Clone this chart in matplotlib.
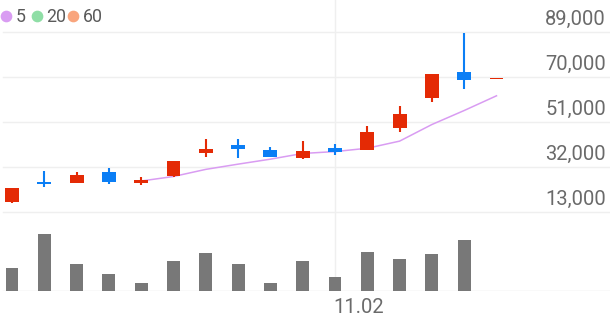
import matplotlib
matplotlib.use("Agg")
import numpy as np
import matplotlib.pyplot as plt
from matplotlib import transforms

plt.rcParams['font.family'] = ['Roboto', 'DejaVu Sans']

# daily candles (price in won), red = up, blue = down
opens  = [17400, 25500, 25400, 29900, 25300, 28200, 37900, 41100, 39200, 35900, 40100, 39000, 48300, 60900, 72000, 69000]
closes = [23300, 24800, 28500, 25600, 26600, 34700, 39600, 39500, 36100, 38900, 38300, 46700, 54500, 71100, 68700, 69000]
highs  = [23300, 30300, 30000, 31600, 27800, 34700, 43800, 43700, 40300, 43100, 41700, 49400, 57800, 71100, 88300, 69000]
lows   = [17000, 23700, 25400, 25000, 24300, 27700, 36300, 35800, 36100, 35200, 37100, 39000, 46700, 59300, 64900, 69000]

# 5-day moving average, starts at the 5th candle
ma5 = [26100, 28000, 31000, 33200, 35300, 37700, 38500, 39900, 42900, 49900, 55800, 62000]

# volume (thousand shares), last day has none yet
volumes = [230, 573, 270, 170, 77, 300, 383, 270, 83, 300, 140, 393, 323, 367, 513]

price_ticks = [89000, 70000, 51000, 32000, 13000]
date_tick_pos = 10
date_tick_label = '11.02'

legend_labels = ['5', '20', '60']
legend_colors = ['#d99cf2', '#8fdea6', '#f9a57d']

RED = '#e42a05'
BLUE = '#0b7ef5'
GRID = '#efefef'
TXT = '#6a6a6a'

W, H = 610, 318
fig = plt.figure(figsize=(W / 100, H / 100), dpi=100)
ax = fig.add_axes([0, 1 - 222 / H, 1, 222 / H])
axv = fig.add_axes([0, 27 / H, 1, 69 / H])

xlim = (-12 / 32.3, (W - 12) / 32.3)
for a in (ax, axv):
    a.set_xlim(*xlim)
    a.axis('off')
ax.set_ylim(8828, 102355)
axv.set_ylim(0, 690)

# grid
for p in price_ticks:
    ax.axhline(p, xmin=3 / W, color=GRID, lw=1.0, zorder=0)
ax.axvline(date_tick_pos, color=GRID, lw=1.0, zorder=0)
axv.axvline(date_tick_pos, color=GRID, lw=1.0, zorder=0)
axv.axhline(0, xmin=3 / W, color='#e4e4e4', lw=1.0, zorder=0)

# candles
x = np.arange(len(opens))
cols = [RED if c >= o else BLUE for o, c in zip(opens, closes)]
ax.vlines(x, lows, highs, colors=cols, lw=1.5, zorder=2)
bottoms = [min(o, c) for o, c in zip(opens, closes)]
heights = [max(abs(c - o), 450) for o, c in zip(opens, closes)]
ax.bar(x, heights, bottom=bottoms, width=0.43, color=cols, lw=0, zorder=3)

# moving average
ax.plot(x[4:], ma5, color=legend_colors[0], lw=1.1, zorder=1)

# volume
axv.bar(np.arange(len(volumes)), volumes, width=0.40, color='#787878', lw=0)

# price labels on the right, above each grid line
lab_tr = transforms.offset_copy(transforms.blended_transform_factory(ax.transAxes, ax.transData),
                                fig=fig, y=6.7, units='dots')
for p in price_ticks:
    ax.text(1 - 4 / W, p, f'{p:,}', transform=lab_tr, ha='right', va='baseline',
            fontsize=14.5, color=TXT)

# date label
date_tr = transforms.offset_copy(axv.transData, fig=fig, x=-1.5, y=-22.3, units='dots')
axv.text(date_tick_pos, 0, date_tick_label, transform=date_tr, ha='left', va='baseline',
         fontsize=14.5, color=TXT)

# legend
dot_x = [6, 36.7, 73.3]
txt_x = [16, 46, 83]
for dx, tx, lab, c in zip(dot_x, txt_x, legend_labels, legend_colors):
    fig.lines.append(plt.Line2D([dx / W], [1 - 15.5 / H], marker='o', markersize=7.4,
                                color=c, lw=0, transform=fig.transFigure))
    fig.text(tx / W, 1 - 22 / H, lab, ha='left', va='baseline', fontsize=12.8, color='#5a5a5a')

fig.savefig('out.png', dpi=100)
